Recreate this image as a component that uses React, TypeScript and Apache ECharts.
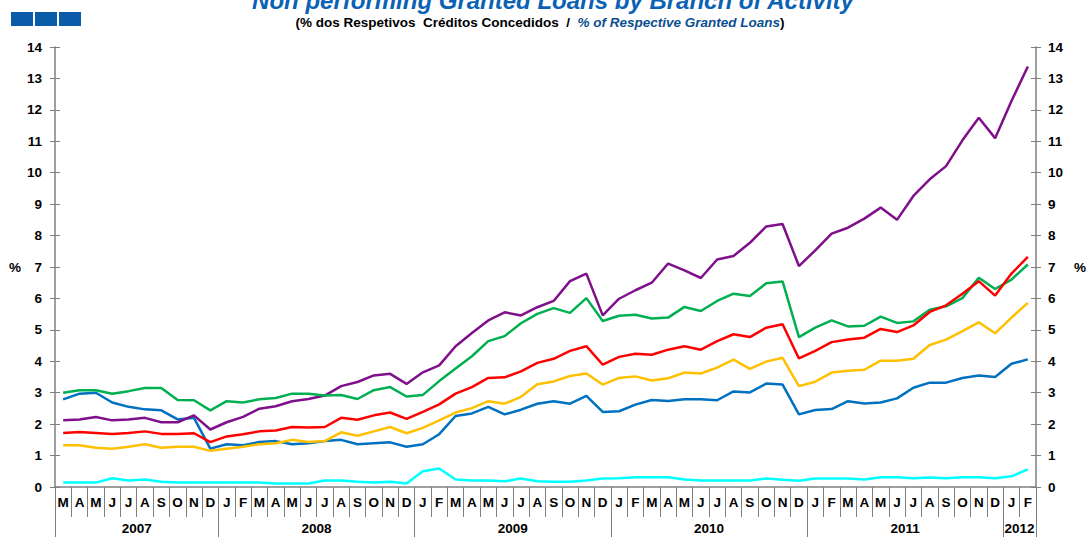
import React, { useEffect, useRef } from "react";
import * as echarts from "echarts";

const monthLetters = [
  "M","A","M","J","J","A","S","O","N","D",
  "J","F","M","A","M","J","J","A","S","O","N","D",
  "J","F","M","A","M","J","J","A","S","O","N","D",
  "J","F","M","A","M","J","J","A","S","O","N","D",
  "J","F","M","A","M","J","J","A","S","O","N","D",
  "J","F",
];
const yearLabels = ["2007", "2008", "2009", "2010", "2011", "2012"];
const yearStartIndex = [0, 10, 22, 34, 46, 58];

const purple = [
  2.12, 2.15, 2.23, 2.12, 2.15, 2.20, 2.06, 2.06, 2.28, 1.83,
  2.06, 2.23, 2.49, 2.57, 2.73, 2.80, 2.91, 3.21, 3.34, 3.55, 3.60, 3.28,
  3.65, 3.87, 4.48, 4.90, 5.30, 5.56, 5.46, 5.72, 5.92, 6.55, 6.79, 5.46,
  5.99, 6.26, 6.50, 7.11, 6.89, 6.65, 7.24, 7.35, 7.77, 8.29, 8.37, 7.03,
  7.53, 8.06, 8.25, 8.54, 8.89, 8.50, 9.26, 9.79, 10.21, 11.03, 11.75, 11.10,
  12.28, 13.38,
];
const green = [
  3.00, 3.08, 3.08, 2.97, 3.05, 3.15, 3.15, 2.77, 2.76, 2.44,
  2.73, 2.69, 2.79, 2.83, 2.97, 2.97, 2.91, 2.93, 2.80, 3.08, 3.18, 2.88,
  2.93, 3.37, 3.77, 4.16, 4.64, 4.80, 5.21, 5.51, 5.69, 5.54, 6.01, 5.28,
  5.45, 5.48, 5.36, 5.39, 5.73, 5.60, 5.92, 6.15, 6.08, 6.48, 6.54, 4.77,
  5.07, 5.30, 5.11, 5.13, 5.42, 5.22, 5.27, 5.64, 5.75, 6.01, 6.66, 6.30,
  6.60, 7.08,
];
const red = [
  1.72, 1.75, 1.72, 1.69, 1.72, 1.77, 1.69, 1.69, 1.71, 1.43,
  1.61, 1.68, 1.77, 1.80, 1.91, 1.89, 1.91, 2.20, 2.14, 2.28, 2.37, 2.17,
  2.39, 2.63, 2.97, 3.18, 3.47, 3.49, 3.68, 3.95, 4.08, 4.33, 4.48, 3.89,
  4.14, 4.24, 4.21, 4.37, 4.48, 4.37, 4.64, 4.86, 4.77, 5.07, 5.18, 4.09,
  4.33, 4.61, 4.69, 4.75, 5.03, 4.93, 5.14, 5.57, 5.78, 6.15, 6.55, 6.09,
  6.79, 7.32,
];
const yellow = [
  1.33, 1.33, 1.25, 1.22, 1.28, 1.36, 1.25, 1.28, 1.28, 1.15,
  1.22, 1.28, 1.36, 1.39, 1.50, 1.43, 1.46, 1.74, 1.63, 1.77, 1.91, 1.71,
  1.88, 2.12, 2.37, 2.51, 2.73, 2.65, 2.87, 3.27, 3.36, 3.53, 3.61, 3.26,
  3.47, 3.52, 3.39, 3.46, 3.64, 3.61, 3.80, 4.05, 3.76, 3.99, 4.11, 3.21,
  3.35, 3.64, 3.70, 3.73, 4.02, 4.02, 4.08, 4.52, 4.69, 4.96, 5.24, 4.89,
  5.39, 5.86,
];
const blue = [
  2.79, 2.97, 3.00, 2.69, 2.55, 2.47, 2.44, 2.15, 2.20, 1.22,
  1.36, 1.33, 1.43, 1.46, 1.36, 1.39, 1.46, 1.50, 1.36, 1.39, 1.42, 1.28,
  1.36, 1.68, 2.26, 2.34, 2.55, 2.31, 2.46, 2.65, 2.73, 2.65, 2.90, 2.39,
  2.41, 2.62, 2.77, 2.74, 2.79, 2.79, 2.76, 3.04, 3.01, 3.29, 3.26, 2.31,
  2.45, 2.48, 2.73, 2.66, 2.69, 2.82, 3.16, 3.32, 3.32, 3.47, 3.55, 3.50,
  3.92, 4.06,
];
const cyan = [
  0.14, 0.14, 0.14, 0.28, 0.21, 0.24, 0.17, 0.14, 0.14, 0.14,
  0.14, 0.14, 0.14, 0.11, 0.11, 0.11, 0.21, 0.21, 0.17, 0.14, 0.17, 0.11,
  0.50, 0.59, 0.24, 0.21, 0.21, 0.18, 0.27, 0.18, 0.17, 0.17, 0.21, 0.27,
  0.28, 0.31, 0.31, 0.31, 0.24, 0.21, 0.21, 0.21, 0.21, 0.27, 0.23, 0.20,
  0.27, 0.27, 0.27, 0.24, 0.31, 0.31, 0.28, 0.30, 0.28, 0.31, 0.31, 0.28,
  0.34, 0.56,
];

const W = 1089;
const H = 537;
const GRID_LEFT = 55;
const GRID_RIGHT = 44;
const GRID_TOP = 47;
const GRID_BOTTOM = 50;
const AXIS_GRAY = "#7f7f7f";
const FONT = "Liberation Sans, Arial, sans-serif";

export default function App() {
  const ref = useRef<HTMLDivElement>(null);

  useEffect(() => {
    if (!ref.current) return;
    const chart = echarts.init(ref.current, undefined, { renderer: "svg" });

    const n = monthLetters.length;
    const band = (W - GRID_LEFT - GRID_RIGHT) / n;
    const yearEnds = yearStartIndex.slice(1).concat([n]);
    const yearLabelIndex = yearStartIndex.map((s, k) => (s + yearEnds[k]) / 2);

    const lineSeries = (name: string, data: number[], color: string) => ({
      name,
      type: "line",
      data,
      xAxisIndex: 0,
      yAxisIndex: 0,
      symbol: "none",
      lineStyle: { color, width: 2.5 },
      itemStyle: { color },
    });

    const yBase = {
      type: "value",
      min: 0,
      max: 14,
      interval: 1,
      splitLine: { show: false },
    };

    const option: any = {
      animation: false,
      backgroundColor: "#ffffff",
      textStyle: { fontFamily: FONT },
      grid: { left: GRID_LEFT, right: GRID_RIGHT, top: GRID_TOP, bottom: GRID_BOTTOM, containLabel: false },
      graphic: [
        { type: "rect", shape: { x: 11, y: 12, width: 22, height: 14 }, style: { fill: "#0B5CA8" } },
        { type: "rect", shape: { x: 35, y: 12, width: 22, height: 14 }, style: { fill: "#0B5CA8" } },
        { type: "rect", shape: { x: 59, y: 12, width: 22, height: 14 }, style: { fill: "#0B5CA8" } },
        {
          type: "text",
          x: 553,
          y: 12,
          style: {
            text: "Non performing Granted Loans by Branch of Activity",
            fill: "#0B62B5",
            font: "italic bold 24px " + FONT,
            align: "center",
            verticalAlign: "bottom",
          },
        },
        {
          type: "text",
          x: 540,
          y: 22,
          style: {
            text: "{a|(% dos Respetivos  Créditos Concedidos  /  }{b|% of Respective Granted Loans}{a|)}",
            align: "center",
            verticalAlign: "middle",
            rich: {
              a: { fontFamily: FONT, fontWeight: "bold", fontSize: 13.5, fill: "#000000" },
              b: { fontFamily: FONT, fontWeight: "bold", fontStyle: "italic", fontSize: 13.5, fill: "#0B4F8F" },
            },
          },
        },
      ],
      xAxis: [
        {
          type: "category",
          data: monthLetters,
          position: "bottom",
          boundaryGap: true,
          axisLine: { show: true, lineStyle: { color: AXIS_GRAY, width: 1.5 } },
          axisTick: { show: true, interval: 0, length: 30, lineStyle: { color: AXIS_GRAY, width: 1 } },
          axisLabel: {
            interval: 0,
            margin: 8,
            color: "#000",
            fontWeight: "bold",
            fontSize: 13.5,
            fontFamily: FONT,
          },
          splitLine: { show: false },
        },
        {
          type: "category",
          data: monthLetters,
          position: "bottom",
          offset: 0,
          boundaryGap: true,
          axisLine: { show: false },
          axisTick: {
            show: true,
            length: 50,
            interval: (i: number) => yearStartIndex.includes(i),
            lineStyle: { color: AXIS_GRAY, width: 1 },
          },
          axisLabel: {
            interval: (i: number) => yearLabelIndex.includes(i),
            formatter: (_v: string, i: number) => {
              const k = yearLabelIndex.indexOf(i);
              return k >= 0 ? yearLabels[k] : "";
            },
            margin: 34,
            padding: [0, band, 0, 0],
            color: "#000",
            fontWeight: "bold",
            fontSize: 13.5,
            fontFamily: FONT,
          },
          splitLine: { show: false },
        },
      ],
      yAxis: [
        {
          ...yBase,
          position: "left",
          name: "%",
          nameLocation: "middle",
          nameRotate: 0,
          nameGap: 32,
          nameTextStyle: { color: "#000", fontWeight: "bold", fontSize: 13.5, fontFamily: FONT },
          axisLine: { show: true, lineStyle: { color: AXIS_GRAY, width: 1.5 } },
          axisTick: { show: true, length: 5, lineStyle: { color: AXIS_GRAY, width: 1 } },
          axisLabel: { margin: 13, color: "#000", fontWeight: "bold", fontSize: 13.5, fontFamily: FONT },
        },
        {
          ...yBase,
          position: "right",
          name: "%",
          nameLocation: "middle",
          nameRotate: 0,
          nameGap: 38,
          nameTextStyle: { color: "#000", fontWeight: "bold", fontSize: 13.5, fontFamily: FONT },
          axisLine: { show: true, lineStyle: { color: AXIS_GRAY, width: 1.5 } },
          axisTick: { show: true, length: 5, lineStyle: { color: AXIS_GRAY, width: 1 } },
          axisLabel: { margin: 12, color: "#000", fontWeight: "bold", fontSize: 13.5, fontFamily: FONT },
        },
        {
          ...yBase,
          position: "left",
          offset: 0,
          axisLine: { show: false },
          axisTick: { show: true, inside: true, length: 5, lineStyle: { color: AXIS_GRAY, width: 1 } },
          axisLabel: { show: false },
        },
        {
          ...yBase,
          position: "right",
          offset: 0,
          axisLine: { show: false },
          axisTick: { show: true, inside: true, length: 5, lineStyle: { color: AXIS_GRAY, width: 1 } },
          axisLabel: { show: false },
        },
      ],
      series: [
        lineSeries("cyan", cyan, "#00FFFF"),
        lineSeries("blue", blue, "#0070C0"),
        lineSeries("yellow", yellow, "#FFC000"),
        lineSeries("purple", purple, "#7F0F8A"),
        lineSeries("green", green, "#00B050"),
        lineSeries("red", red, "#FF0000"),
      ],
    };

    chart.setOption(option);
    return () => chart.dispose();
  }, []);

  return (
    <div
      ref={ref}
      style={{ position: "fixed", left: 0, top: 0, width: W, height: H, background: "#fff" }}
    />
  );
}
